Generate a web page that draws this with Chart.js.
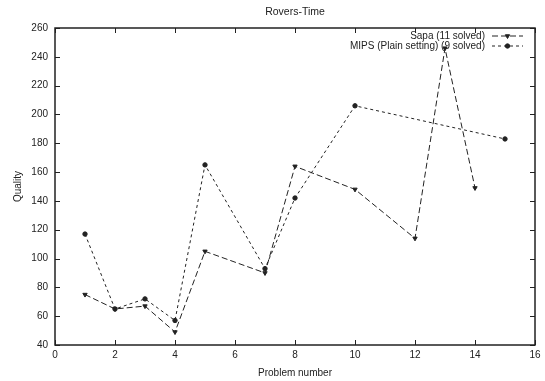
<!DOCTYPE html>
<html>
<head>
<meta charset="utf-8">
<script src="https://cdn.jsdelivr.net/npm/chart.js@4/dist/chart.umd.min.js"></script>
<style>
  html, body { margin: 0; padding: 0; background: #fff; }
  #wrap { width: 545px; height: 381px; }
</style>
</head>
<body>
<div id="wrap"><canvas id="roversChart"></canvas></div>
<script>
// Rovers-Time: quality per problem
const sapaProblems = [1, 2, 3, 4, 5, 7, 8, 10, 12, 13, 14];
const sapaQuality  = [75, 65, 67, 49, 105, 90, 164, 148, 114, 246, 149];

const mipsProblems = [1, 2, 3, 4, 5, 7, 8, 10, 15];
const mipsQuality  = [117, 65, 72, 57, 165, 93, 142, 206, 183];

const chartTitle = 'Rovers-Time';
const seriesLabels = ['Sapa (11 solved)', 'MIPS (Plain setting) (9 solved)'];
const xTicks = [0, 2, 4, 6, 8, 10, 12, 14, 16];
const yTicks = [40, 60, 80, 100, 120, 140, 160, 180, 200, 220, 240, 260];

const ink = '#222';
const fontFamily = '"Liberation Sans", Arial, sans-serif';

function toPoints(xs, ys) {
    return xs.map((x, i) => ({ x: x, y: ys[i] }));
}

// gnuplot style frame with inward ticks on every side, title over the plot, and the key
const framePlugin = {
    id: 'frame',
    afterDraw(chart) {
        const ctx = chart.ctx;
        const area = chart.chartArea;
        const xs = chart.scales.x;
        const ys = chart.scales.y;
        const tick = 5;
        ctx.save();
        ctx.strokeStyle = ink;
        ctx.lineWidth = 1;
        ctx.beginPath();
        xTicks.forEach(v => {
            const px = Math.round(xs.getPixelForValue(v)) + 0.5;
            ctx.moveTo(px, area.bottom); ctx.lineTo(px, area.bottom - tick);
            ctx.moveTo(px, area.top); ctx.lineTo(px, area.top + tick);
        });
        yTicks.forEach(v => {
            const py = Math.round(ys.getPixelForValue(v)) + 0.5;
            ctx.moveTo(area.left, py); ctx.lineTo(area.left + tick, py);
            ctx.moveTo(area.right, py); ctx.lineTo(area.right - tick, py);
        });
        ctx.stroke();
        ctx.lineWidth = 1.5;
        ctx.strokeRect(area.left, area.top, area.right - area.left, area.bottom - area.top);

        // title, centred on the plot area
        ctx.fillStyle = ink;
        ctx.font = '10.5px ' + fontFamily;
        ctx.textAlign = 'center';
        ctx.textBaseline = 'middle';
        ctx.fillText(chartTitle, (area.left + area.right) / 2, 12);

        // key
        const textRight = area.right - 50;
        const sampleLeft = area.right - 43;
        const sampleRight = area.right - 12;
        const markX = (sampleLeft + sampleRight) / 2;
        ctx.font = '10px ' + fontFamily;
        ctx.textAlign = 'right';
        chart.data.datasets.forEach((ds, i) => {
            const y = area.top + 8 + i * 10;
            ctx.fillText(ds.label, textRight, y);
            ctx.lineWidth = 1;
            ctx.setLineDash(ds.borderDash);
            ctx.beginPath();
            ctx.moveTo(sampleLeft, y);
            ctx.lineTo(sampleRight, y);
            ctx.stroke();
            ctx.setLineDash([]);
            Chart.helpers.drawPoint(ctx, {
                pointStyle: ds.pointStyle,
                rotation: ds.pointRotation,
                radius: ds.pointRadius,
                borderWidth: 1
            }, markX, y);
        });
        ctx.restore();
    }
};

const ctx = document.getElementById('roversChart').getContext('2d');

const roversChart = new Chart(ctx, {
    type: 'line',
    data: {
        datasets: [{
            label: seriesLabels[0],
            data: toPoints(sapaProblems, sapaQuality),
            borderColor: ink,
            backgroundColor: ink,
            borderWidth: 1,
            borderDash: [6, 3],
            pointStyle: 'triangle',
            pointRotation: 180,
            pointRadius: 2.5,
            pointBorderWidth: 1,
            tension: 0,
            fill: false
        }, {
            label: seriesLabels[1],
            data: toPoints(mipsProblems, mipsQuality),
            borderColor: ink,
            backgroundColor: ink,
            borderWidth: 1,
            borderDash: [3, 3],
            pointStyle: 'circle',
            pointRotation: 0,
            pointRadius: 2.2,
            pointBorderWidth: 1,
            tension: 0,
            fill: false
        }]
    },
    options: {
        responsive: true,
        maintainAspectRatio: false,
        animation: false,
        layout: {
            padding: { left: 0, right: 10, top: 28, bottom: 0 }
        },
        plugins: {
            legend: { display: false },
            tooltip: { enabled: false },
            title: { display: false }
        },
        scales: {
            x: {
                type: 'linear',
                min: 0,
                max: 16,
                afterFit: scale => { scale.height = 36; },
                afterBuildTicks: scale => { scale.ticks = xTicks.map(v => ({ value: v })); },
                grid: { display: false, drawTicks: false },
                border: { display: false },
                ticks: {
                    color: ink,
                    padding: 4,
                    maxRotation: 0,
                    font: { family: fontFamily, size: 10 }
                },
                title: {
                    display: true,
                    text: 'Problem number',
                    color: ink,
                    font: { family: fontFamily, size: 10 },
                    padding: { top: 0, bottom: 2 }
                }
            },
            y: {
                min: 40,
                max: 260,
                afterFit: scale => { scale.width = 55; },
                afterBuildTicks: scale => { scale.ticks = yTicks.map(v => ({ value: v })); },
                grid: { display: false, drawTicks: false },
                border: { display: false },
                ticks: {
                    color: ink,
                    padding: 7,
                    font: { family: fontFamily, size: 10 }
                },
                title: {
                    display: true,
                    text: 'Quality',
                    color: ink,
                    font: { family: fontFamily, size: 10 },
                    padding: { top: 12, bottom: 0 }
                }
            }
        }
    },
    plugins: [framePlugin]
});
</script>
</body>
</html>
